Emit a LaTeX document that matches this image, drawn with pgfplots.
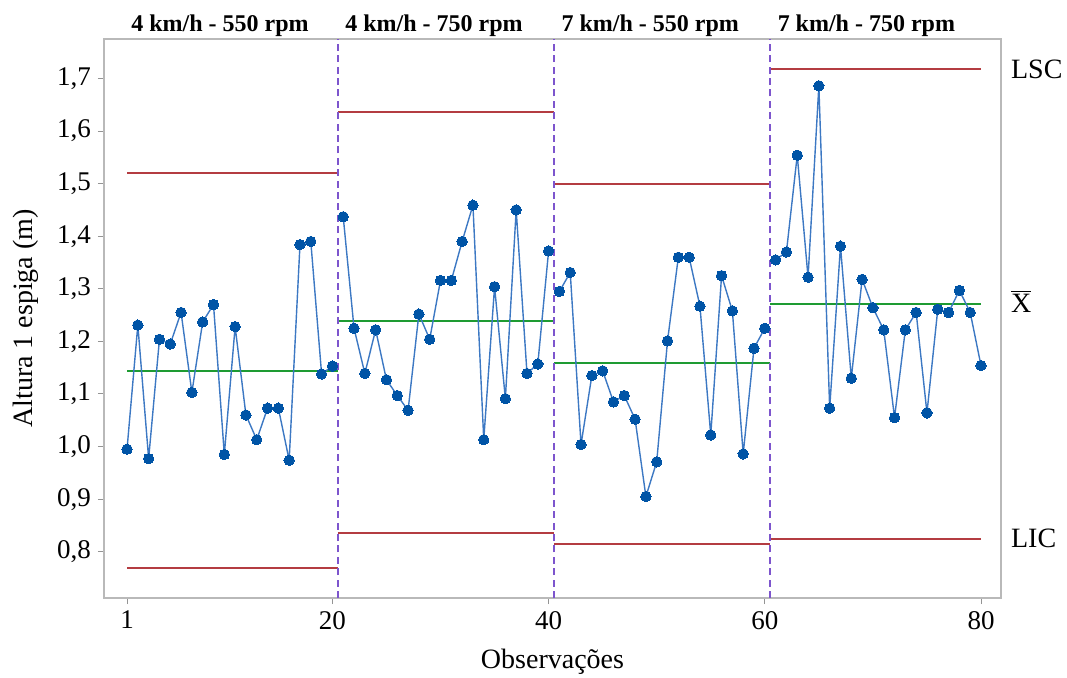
\documentclass[border=0pt]{standalone}
\usepackage{fontspec}
\setmainfont{Liberation Serif}
\usepackage{pgfplots}
\pgfplotsset{compat=1.18}
\definecolor{ptblue}{RGB}{0,84,166}
\definecolor{lnblue}{RGB}{60,120,195}
\definecolor{limred}{RGB}{180,60,65}
\definecolor{cgreen}{RGB}{30,155,50}
\definecolor{divpurple}{RGB}{125,85,205}
\definecolor{framegray}{RGB}{185,185,185}
\begin{document}
\begin{tikzpicture}
\begin{axis}[
  at={(0,0)}, anchor=south west,
  width=448.5pt, height=279.5pt, scale only axis,
  xmin=-1.13, xmax=81.85, ymin=0.712, ymax=1.775,
  clip=false,
  xtick={1,20,40,60,80},
  ytick={0.8,0.9,1.0,1.1,1.2,1.3,1.4,1.5,1.6,1.7},
  tick align=outside, tick pos=left,
  major tick length=3pt,
  axis line style={framegray, line width=0.8pt},
  tick style={framegray!80!black, line width=0.5pt},
  /pgf/number format/assume math mode=true,
  ticklabel style={font=\fontsize{13.5}{16}\selectfont},
  yticklabel style={/pgf/number format/.cd, fixed, fixed zerofill, precision=1, use comma},
  xlabel={Observações},
  ylabel={Altura 1 espiga (m)},
  label style={font=\fontsize{14}{17}\selectfont},
  xlabel style={at={(axis description cs:0.5,-0.1145)}, anchor=center},
  ylabel style={at={(axis description cs:-0.087,0.5)}, anchor=center},
  every axis plot/.append style={line join=round},
]
\pgfplotsset{
  limstyle/.style={color=limred, line width=1pt, no marks},
  cstyle/.style={color=cgreen, line width=1pt, no marks},
  divstyle/.style={color=divpurple, line width=1pt, dash pattern=on 3.5pt off 2.2pt, no marks},
  datastyle/.style={color=lnblue, line width=0.7pt, mark=*, mark size=2.6pt, mark options={fill=ptblue, draw=ptblue, line width=0pt}}
}
% control limits and center lines
\addplot[limstyle] coordinates {(1,1.520) (20.5,1.520)};
\addplot[cstyle] coordinates {(1,1.144) (20.5,1.144)};
\addplot[limstyle] coordinates {(1,0.769) (20.5,0.769)};
\addplot[limstyle] coordinates {(20.5,1.637) (40.5,1.637)};
\addplot[cstyle] coordinates {(20.5,1.238) (40.5,1.238)};
\addplot[limstyle] coordinates {(20.5,0.835) (40.5,0.835)};
\addplot[limstyle] coordinates {(40.5,1.500) (60.5,1.500)};
\addplot[cstyle] coordinates {(40.5,1.159) (60.5,1.159)};
\addplot[limstyle] coordinates {(40.5,0.815) (60.5,0.815)};
\addplot[limstyle] coordinates {(60.5,1.718) (80,1.718)};
\addplot[cstyle] coordinates {(60.5,1.272) (80,1.272)};
\addplot[limstyle] coordinates {(60.5,0.825) (80,0.825)};
% dividers
\addplot[divstyle] coordinates {(20.5,0.712) (20.5,1.775)};
\addplot[divstyle] coordinates {(40.5,0.712) (40.5,1.775)};
\addplot[divstyle] coordinates {(60.5,0.712) (60.5,1.775)};
% data
\addplot[datastyle] coordinates {
(1,0.995) (2,1.231) (3,0.977) (4,1.204) (5,1.195) (6,1.255) (7,1.103) (8,1.237) (9,1.270) (10,0.985)
(11,1.228) (12,1.060) (13,1.013) (14,1.073) (15,1.073) (16,0.974) (17,1.384) (18,1.390) (19,1.138) (20,1.153)};
\addplot[datastyle] coordinates {
(21,1.437) (22,1.225) (23,1.139) (24,1.222) (25,1.127) (26,1.097) (27,1.069) (28,1.252) (29,1.204) (30,1.316)
(31,1.316) (32,1.390) (33,1.459) (34,1.013) (35,1.304) (36,1.091) (37,1.450) (38,1.139) (39,1.157) (40,1.372)};
\addplot[datastyle] coordinates {
(41,1.295) (42,1.331) (43,1.004) (44,1.135) (45,1.144) (46,1.085) (47,1.097) (48,1.052) (49,0.905) (50,0.971)
(51,1.201) (52,1.360) (53,1.360) (54,1.267) (55,1.022) (56,1.325) (57,1.258) (58,0.986) (59,1.187) (60,1.225)};
\addplot[datastyle] coordinates {
(61,1.355) (62,1.370) (63,1.554) (64,1.322) (65,1.686) (66,1.073) (67,1.381) (68,1.130) (69,1.318) (70,1.264)
(71,1.222) (72,1.055) (73,1.222) (74,1.255) (75,1.064) (76,1.261) (77,1.255) (78,1.297) (79,1.255) (80,1.154)};
% titles
\node[anchor=base, yshift=4pt, font=\bfseries\fontsize{12}{14}\selectfont] at (axis cs:9.6,1.775) {4 km/h - 550 rpm};
\node[anchor=base, yshift=4pt, font=\bfseries\fontsize{12}{14}\selectfont] at (axis cs:29.4,1.775) {4 km/h - 750 rpm};
\node[anchor=base, yshift=4pt, font=\bfseries\fontsize{12}{14}\selectfont] at (axis cs:49.4,1.775) {7 km/h - 550 rpm};
\node[anchor=base, yshift=4pt, font=\bfseries\fontsize{12}{14}\selectfont] at (axis cs:69.4,1.775) {7 km/h - 750 rpm};
% right labels
\node[anchor=west, xshift=1.5pt, font=\fontsize{14}{17}\selectfont] at (axis cs:81.85,1.718) {LSC};
\node[anchor=west, xshift=1.5pt, font=\fontsize{14}{17}\selectfont] at (axis cs:81.85,1.276) {$\overline{\mbox{X}}$};
\node[anchor=west, xshift=1.5pt, font=\fontsize{14}{17}\selectfont] at (axis cs:81.85,0.825) {LIC};
\end{axis}
\pgfresetboundingbox
\path (-52pt,-39.5pt) rectangle (481.5pt,299pt);
\end{tikzpicture}
\end{document}
